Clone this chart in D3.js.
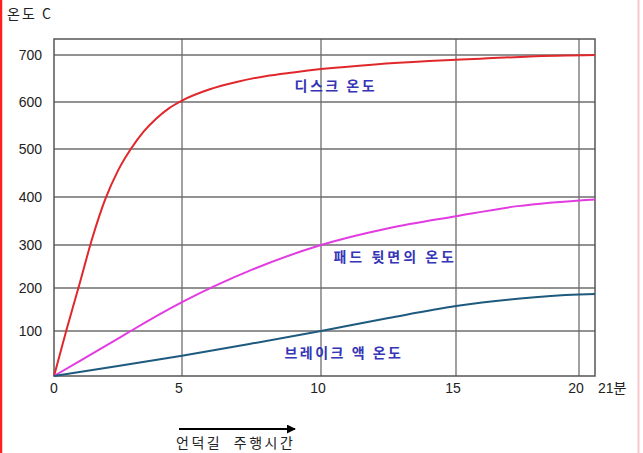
<!DOCTYPE html>
<html>
<head>
<meta charset="utf-8">
<script src="https://cdn.jsdelivr.net/npm/d3@7"></script>
<style>
  html, body { margin: 0; padding: 0; background: #fff; }
  svg { display: block; }
</style>
</head>
<body>
<svg id="chart" width="643" height="453"></svg>
<script>
// ---- data ----
const yTicks = [100, 200, 300, 400, 500, 600, 700];
const yTickLabels = ["100", "200", "300", "400", "500", "600", "700"];
const xTicks = [0, 5, 10, 15, 20];
const xTickLabels = ["0", "5", "10", "15", "20"];
const xEndLabel = "21분";
const yTitle = "온도 C";
const xTitle = "언덕길 주행시간";

const diskTime = [0, 0.5, 1, 1.5, 2, 2.5, 3, 3.5, 4, 4.5, 5, 6, 7, 8, 9, 10, 12, 14, 16, 18, 20.65];
const diskTemp = [0, 105, 210, 315, 395, 455, 500, 537, 565, 587, 603, 627, 643, 655, 663, 670, 680, 687, 692, 697, 700];

const padTime = [0, 1, 2.5, 3, 5, 7.5, 10, 12.5, 15, 17.5, 20.65];
const padTemp = [0, 33, 83, 100, 167, 242, 300, 335, 360, 381, 395];

const fluidTime = [0, 2.5, 5, 7.5, 10, 12.5, 15, 17.5, 20, 20.65];
const fluidTemp = [0, 22, 45, 72, 100, 130, 158, 175, 185, 186];

const seriesNames = ["디스크 온도", "패드 뒷면의 온도", "브레이크 액 온도"];
const labelAt = [[10.55, 634], [12.75, 272], [10.85, 51]];

// ---- drawing ----
(function () {
const svg = d3.select("#chart");
const pL = 54, pR = 595, pT = 39, pB = 376;

// piecewise scales following the reference's hand-drawn grid
const x = d3.scaleLinear().domain([0, 5, 10, 15, 20, 20.65]).range([54, 182, 321, 456, 579, 595]);
const y = d3.scaleLinear().domain([0, 100, 200, 300, 400, 500, 600, 700]).range([376, 331, 288, 245, 197, 149, 102, 55]);

// page border lines
svg.append("line").attr("x1", 1).attr("x2", 1).attr("y1", 0).attr("y2", 453)
  .attr("stroke", "#ff2020").attr("stroke-width", 2.5);
svg.append("line").attr("x1", 638.5).attr("x2", 638.5).attr("y1", 0).attr("y2", 453)
  .attr("stroke", "#f9c6cc").attr("stroke-width", 2);

// grid
const g = svg.append("g");
g.selectAll(".hg").data(yTicks).join("line")
  .attr("x1", pL).attr("x2", pR)
  .attr("y1", d => y(d)).attr("y2", d => y(d))
  .attr("stroke", "#6e6e6e").attr("stroke-width", 1.3);
g.selectAll(".vg").data(xTicks.slice(1)).join("line")
  .attr("x1", d => x(d)).attr("x2", d => x(d))
  .attr("y1", pT).attr("y2", pB)
  .attr("stroke", "#6e6e6e").attr("stroke-width", 1.3);

// frame
g.append("rect").attr("x", pL).attr("y", pT)
  .attr("width", pR - pL).attr("height", pB - pT)
  .attr("fill", "none").attr("stroke", "#555").attr("stroke-width", 1.5);

// y tick labels
svg.selectAll(".yl").data(yTicks).join("text")
  .attr("x", 42).attr("y", d => y(d)).attr("dy", "0.36em")
  .attr("text-anchor", "end")
  .attr("font-family", "Liberation Sans, Arial, sans-serif")
  .attr("font-size", 14).attr("fill", "#222")
  .text((d, i) => yTickLabels[i]);

// x tick labels
svg.selectAll(".xl").data(xTicks).join("text")
  .attr("x", (d, i) => i === 0 ? x(d) : x(d) - 3).attr("y", 393)
  .attr("text-anchor", "middle")
  .attr("font-family", "Liberation Sans, Arial, sans-serif")
  .attr("font-size", 14).attr("fill", "#222")
  .text((d, i) => xTickLabels[i]);
svg.append("text").attr("x", 598).attr("y", 393)
  .attr("font-family", "Liberation Sans, 'Noto Sans CJK KR', sans-serif")
  .attr("font-size", 14).attr("fill", "#222")
  .text(xEndLabel);

// y title
svg.append("text").attr("x", 7).attr("y", 19)
  .attr("font-family", "'Noto Sans CJK KR', sans-serif")
  .attr("font-size", 14).attr("fill", "#222").attr("letter-spacing", 2)
  .text(yTitle);

// lines
const line = d3.line().x(d => x(d[0])).y(d => y(d[1])).curve(d3.curveMonotoneX);
const series = [
  { t: diskTime, v: diskTemp, color: "#e0282c" },
  { t: padTime, v: padTemp, color: "#e23ce0" },
  { t: fluidTime, v: fluidTemp, color: "#1d5a7e" }
];
series.forEach(s => {
  svg.append("path")
    .datum(s.t.map((t, i) => [t, s.v[i]]))
    .attr("d", line)
    .attr("fill", "none").attr("stroke", s.color).attr("stroke-width", 2);
});

// series labels
svg.selectAll(".sl").data(seriesNames).join("text")
  .attr("x", (d, i) => x(labelAt[i][0])).attr("y", (d, i) => y(labelAt[i][1]))
  .attr("text-anchor", "middle").attr("dy", "0.35em")
  .attr("font-family", "'Noto Sans CJK KR', sans-serif")
  .attr("font-size", 14).attr("font-weight", "bold")
  .attr("letter-spacing", (d, i) => i === 1 ? 3 : 2.5)
  .attr("fill", "#3535b5")
  .text(d => d);

// arrow + x title
svg.append("defs").append("marker")
  .attr("id", "ah").attr("viewBox", "0 0 10 10").attr("refX", 9).attr("refY", 5)
  .attr("markerWidth", 9).attr("markerHeight", 9).attr("orient", "auto")
  .attr("markerUnits", "userSpaceOnUse")
  .append("path").attr("d", "M0,0 L10,5 L0,10 z").attr("fill", "#000");
svg.append("line").attr("x1", 179).attr("x2", 295).attr("y1", 429).attr("y2", 429)
  .attr("stroke", "#000").attr("stroke-width", 2)
  .attr("marker-end", "url(#ah)");
svg.append("text").attr("x", 176).attr("y", 448)
  .attr("font-family", "'Noto Sans CJK KR', sans-serif")
  .attr("font-size", 14).attr("fill", "#222").attr("letter-spacing", 2.5)
  .attr("word-spacing", 6)
  .text(xTitle);
})();
</script>
</body>
</html>
